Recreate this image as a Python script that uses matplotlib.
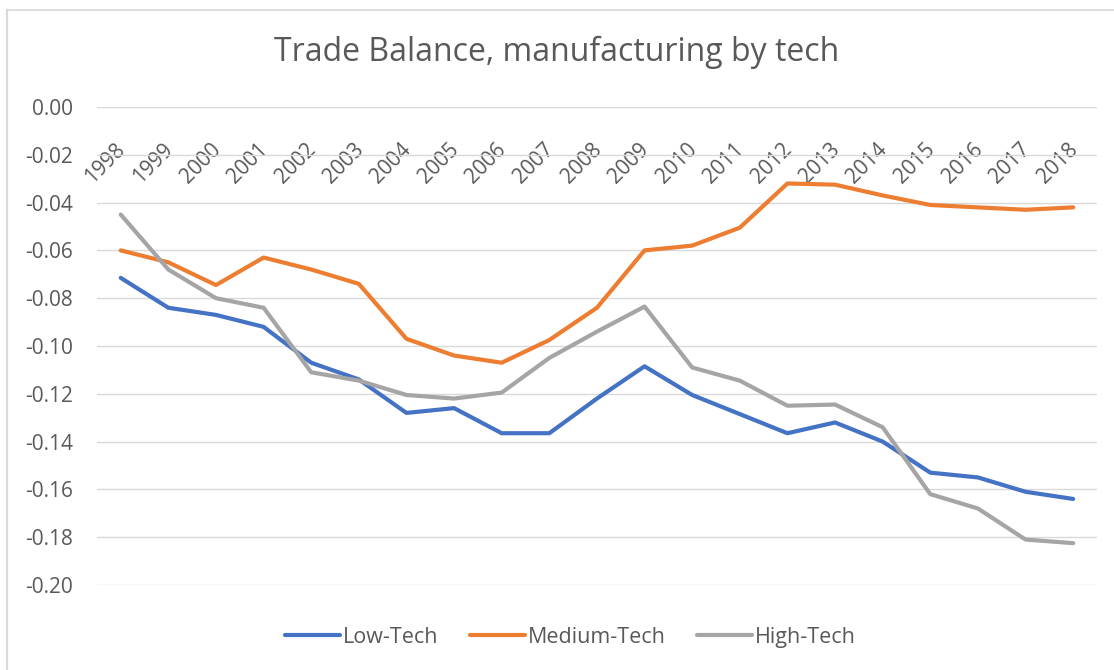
import matplotlib.pyplot as plt
import matplotlib.transforms as mtransforms
import numpy as np

years = [str(y) for y in range(1998, 2019)]
low_tech = [-0.0715, -0.084, -0.087, -0.092, -0.107, -0.114, -0.128, -0.126, -0.1365, -0.1365,
            -0.122, -0.1085, -0.1205, -0.1285, -0.1365, -0.132, -0.140, -0.153, -0.155, -0.161, -0.164]
medium_tech = [-0.060, -0.065, -0.0745, -0.063, -0.068, -0.074, -0.097, -0.104, -0.107, -0.0975,
               -0.084, -0.060, -0.058, -0.0505, -0.032, -0.0325, -0.037, -0.041, -0.042, -0.043, -0.042]
high_tech = [-0.045, -0.068, -0.080, -0.084, -0.111, -0.1145, -0.1205, -0.122, -0.1195, -0.105,
             -0.094, -0.0835, -0.109, -0.1145, -0.125, -0.1245, -0.134, -0.162, -0.168, -0.181, -0.1825]

plt.rcParams['font.family'] = ['Open Sans', 'DejaVu Sans']
txt = '#595959'

fig = plt.figure(figsize=(11.14, 6.7), dpi=100)
ax = fig.add_axes([0.087, 0.1269, 0.8977, 0.7134])
x = np.arange(len(years))
ax.plot(x, low_tech, color='#4472C4', lw=3, label='Low-Tech', solid_capstyle='round', solid_joinstyle='round')
ax.plot(x, medium_tech, color='#ED7D31', lw=3, label='Medium-Tech', solid_capstyle='round', solid_joinstyle='round')
ax.plot(x, high_tech, color='#A5A5A5', lw=3, label='High-Tech', solid_capstyle='round', solid_joinstyle='round')

ax.set_xlim(-0.5, len(years) - 0.5)
ax.set_ylim(-0.20, 0.0)
ax.set_yticks(np.arange(-0.20, 0.001, 0.02))
ax.yaxis.set_major_formatter(plt.FuncFormatter(lambda v, p: f'{v:.2f}'.replace('-0.00', '0.00')))
ax.grid(axis='y', color='#D9D9D9', lw=1)
ax.set_axisbelow(True)
for s in ['left', 'right', 'top']:
    ax.spines[s].set_visible(False)
ax.spines['bottom'].set_position(('data', 0))
ax.spines['bottom'].set_visible(False)
ax.set_xticks(x)
ax.set_xticklabels(years, rotation=45, ha='right', va='top', rotation_mode='anchor')
ax.tick_params(axis='x', length=0, pad=23, labelsize=15, colors=txt)
ax.tick_params(axis='y', length=0, pad=17, labelsize=15, colors=txt)
shift = mtransforms.ScaledTranslation(-6 / 100, 0, fig.dpi_scale_trans)
for lab in ax.get_xticklabels():
    lab.set_transform(lab.get_transform() + shift)

fig.text(0.5, 0.922, 'Trade Balance, manufacturing by tech', ha='center', va='center',
         fontsize=23, color=txt)
fig.legend(loc='center', bbox_to_anchor=(0.512, 0.049), ncol=3, frameon=False, fontsize=15.5,
           handlelength=2.55, handletextpad=0.15, columnspacing=1.45, labelcolor=txt)

# chart frame (only left and top edges fall inside the image)
fig.add_artist(plt.Line2D([7 / 1114, 7 / 1114], [0, 1 - 9.5 / 670], transform=fig.transFigure,
                          color='#D9D9D9', lw=1.6))
fig.add_artist(plt.Line2D([7 / 1114, 1], [1 - 9.5 / 670, 1 - 9.5 / 670], transform=fig.transFigure,
                          color='#D9D9D9', lw=1.2))
fig.savefig('out.png', dpi=100)
